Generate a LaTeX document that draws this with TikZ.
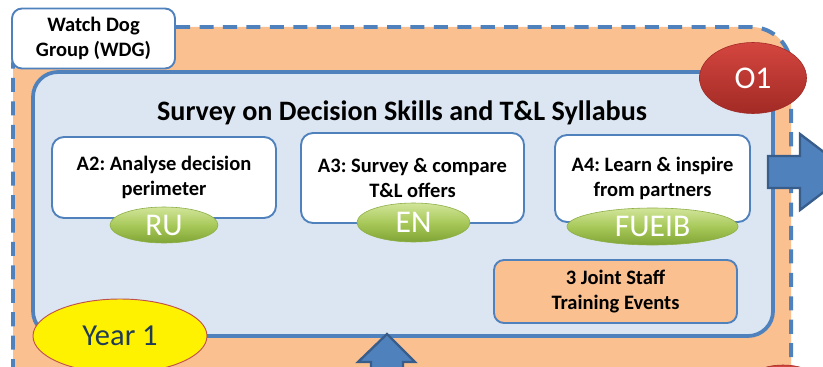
\documentclass[tikz,border=0pt]{standalone}
\usepackage{fontspec}
\setmainfont{Carlito}
\frenchspacing
\usetikzlibrary{shapes.geometric}
\definecolor{orgF}{HTML}{FAC090}
\definecolor{bl}{HTML}{4F81BD}
\definecolor{bldk}{HTML}{385D8A}
\definecolor{inF}{HTML}{DCE6F2}
\definecolor{grTop}{HTML}{D2E59A}
\definecolor{grMid}{HTML}{A8C95A}
\definecolor{grBot}{HTML}{7FA435}
\definecolor{grDk}{HTML}{8CAE45}
\definecolor{rdTop}{HTML}{D4463F}
\definecolor{rdBot}{HTML}{A22A25}
\definecolor{yrTx}{HTML}{1F3B57}
\definecolor{yrBd}{HTML}{C0504D}
\begin{document}
\begin{tikzpicture}[x=0.03cm,y=-0.03cm,
  wbox/.style={draw=bl, line width=1.6pt, fill=white, rounded corners=0.36cm, align=center,
    font=\fontsize{17.5}{22}\selectfont\bfseries, inner sep=0},
  greenell/.style={ellipse, draw=grDk, line width=0.5pt, top color=grTop, bottom color=grBot,
    middle color=grMid, text=white, font=\fontsize{27}{30}\selectfont, inner sep=0},
  redell/.style={ellipse, draw=rdBot, line width=0.5pt, top color=rdTop, bottom color=rdBot,
    text=white, font=\fontsize{27}{30}\selectfont, inner sep=0},
  blockarrow/.style={fill=bl, draw=bldk, line width=2pt, line join=miter}
]
\useasboundingbox (0,0) rectangle (823,366);
\clip (0,0) rectangle (823,366);

% outer orange region with dashed border
\fill[orgF, rounded corners=1.2cm] (13,420) -- (13,27) -- (791,27) -- (791,420);
\draw[bl, line width=3.4pt, dash pattern=on 12pt off 8pt, rounded corners=1.2cm]
  (13,420) -- (13,27) -- (791,27) -- (791,420);

% inner survey box
\node[draw=bl, line width=3.2pt, fill=inF, rounded corners=0.75cm, minimum width=22.2cm,
  minimum height=7.92cm, inner sep=0] (survey) at (403,204) {};
\node[font=\fontsize{24}{28}\selectfont\bfseries] (title) at (402,113)
  {Survey on Decision Skills and T\&L Syllabus};

% O1 ellipse and lower (partly hidden) ellipse
\node[redell, minimum width=3.21cm, minimum height=2.13cm] (o1) at (753,78) {O1};
\node[redell, minimum width=3.0cm, minimum height=2.16cm] (o2) at (783,401) {};

% Watch Dog Group
\node[wbox, rounded corners=0.3cm, minimum width=4.89cm, minimum height=1.8cm,
  font=\fontsize{17.5}{21}\selectfont\bfseries] (wdg) at (93.5,38.5)
  {Watch Dog\\Group (WDG)};

% activity boxes
\node[wbox, minimum width=6.72cm, minimum height=2.43cm] (a2) at (164,177.5)
  {A2: Analyse decision\\perimeter};
\node[wbox, minimum width=6.69cm, minimum height=2.7cm] (a3) at (412.5,178)
  {A3: Survey \& compare\\T\&L offers};
\node[wbox, minimum width=5.85cm, minimum height=2.61cm] (a4) at (652.5,178.5)
  {A4: Learn \& inspire\\from partners};

% partner ellipses
\node[greenell, minimum width=3.24cm, minimum height=1.08cm] (ru) at (164,225) {RU};
\node[greenell, minimum width=3.39cm, minimum height=1.17cm] (en) at (413.5,222.5) {EN};
\node[greenell, minimum width=5.13cm, minimum height=1.11cm] (fueib) at (652.5,226.5) {FUEIB};

% joint staff training
\node[draw=bl, line width=1.6pt, fill=orgF, rounded corners=0.3cm, minimum width=7.29cm,
  minimum height=1.89cm, align=center, font=\fontsize{17.5}{21.5}\selectfont\bfseries,
  inner sep=0] (jst) at (615.5,291.5) {3 Joint Staff\\Training Events};

% Year 1
\node[ellipse, draw=yrBd, line width=0.8pt, fill=yellow, text=yrTx,
  minimum width=5.22cm, minimum height=2.22cm, inner sep=0,
  font=\fontsize{26}{30}\selectfont] (year) at (120,336) {Year 1};

% block arrows
\coordinate (rtip) at (850,172);
\draw[blockarrow] (768,156) -- (800,156) -- (800,134) -- (rtip) -- (800,210)
  -- (800,188) -- (768,188) -- cycle;
\coordinate (utip) at (387,334);
\draw[blockarrow] (371,400) -- (371,362) -- (358,362) -- (utip) -- (415,362)
  -- (403,362) -- (403,400) -- cycle;
\end{tikzpicture}
\end{document}
